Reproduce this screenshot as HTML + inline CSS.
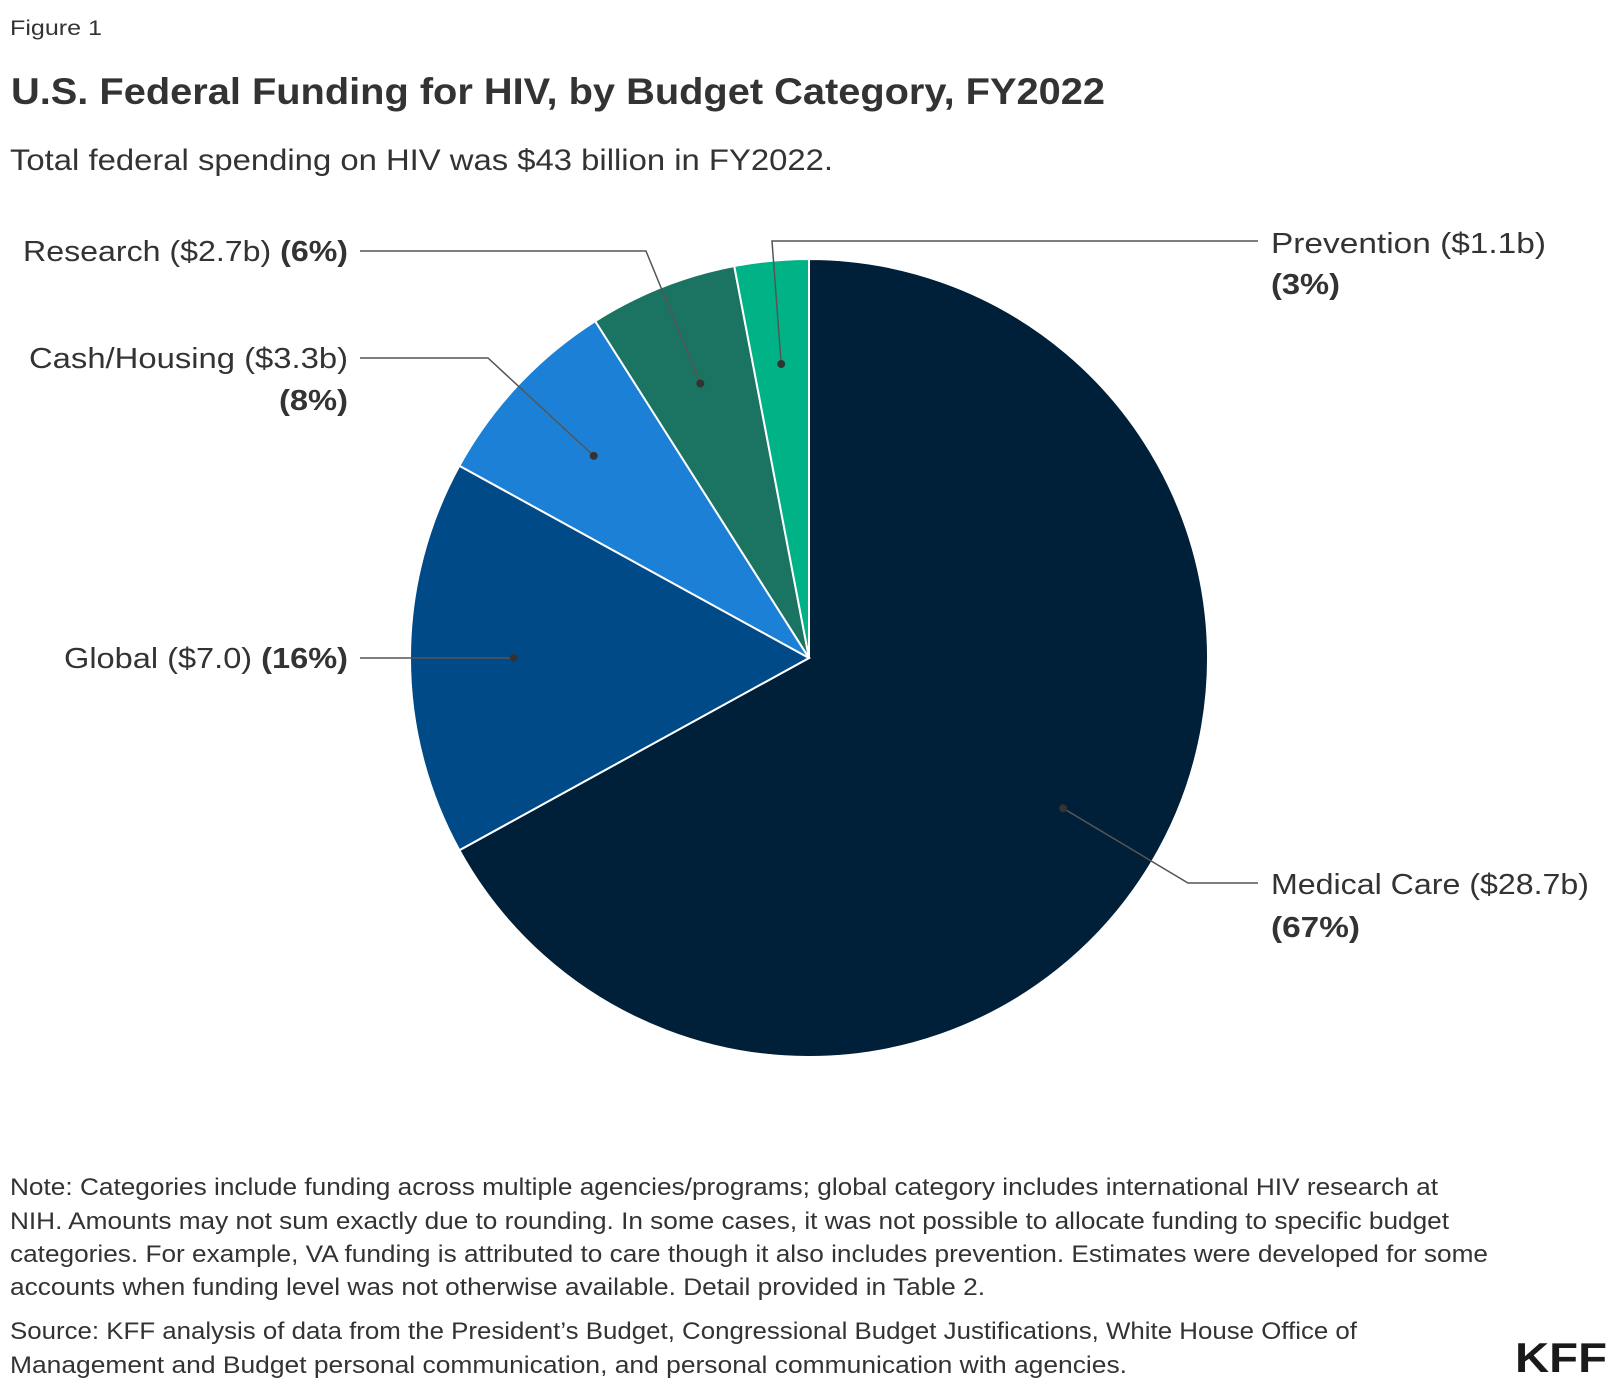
<!DOCTYPE html>
<html><head><meta charset="utf-8"><style>
html,body{margin:0;padding:0;background:#fff;}
svg{display:block;font-family:"Liberation Sans",sans-serif;}
</style></head><body>
<svg id="chart" width="1620" height="1392" viewBox="0 0 1620 1392">
<text x="10" y="35" font-size="21" fill="#333" textLength="92" lengthAdjust="spacingAndGlyphs">Figure 1</text>
<text x="11" y="104" font-size="37" font-weight="bold" fill="#333" textLength="1094" lengthAdjust="spacingAndGlyphs">U.S. Federal Funding for HIV, by Budget Category, FY2022</text>
<text x="10" y="170" font-size="30" fill="#333" textLength="823" lengthAdjust="spacingAndGlyphs">Total federal spending on HIV was $43 billion in FY2022.</text>
<g id="pie"></g>
<g id="labels"></g>
<g font-size="24" fill="#333">
<text x="10" y="1195" textLength="1428" lengthAdjust="spacingAndGlyphs">Note: Categories include funding across multiple agencies/programs; global category includes international HIV research at</text>
<text x="10" y="1229" textLength="1439" lengthAdjust="spacingAndGlyphs">NIH. Amounts may not sum exactly due to rounding. In some cases, it was not possible to allocate funding to specific budget</text>
<text x="10" y="1262" textLength="1478" lengthAdjust="spacingAndGlyphs">categories. For example, VA funding is attributed to care though it also includes prevention. Estimates were developed for some</text>
<text x="10" y="1295" textLength="975" lengthAdjust="spacingAndGlyphs">accounts when funding level was not otherwise available. Detail provided in Table 2.</text>
</g>
<g font-size="24" fill="#333">
<text x="10" y="1339" textLength="1347" lengthAdjust="spacingAndGlyphs">Source: KFF analysis of data from the President’s Budget, Congressional Budget Justifications, White House Office of</text>
<text x="10" y="1373" textLength="1117" lengthAdjust="spacingAndGlyphs">Management and Budget personal communication, and personal communication with agencies.</text>
</g>
<text x="1515" y="1372" font-size="42" font-weight="bold" fill="#1a1a1a" textLength="92" lengthAdjust="spacingAndGlyphs">KFF</text>
</svg>
<script>
const categories = ["Medical Care", "Global", "Cash/Housing", "Research", "Prevention"];
const shares = [67, 16, 8, 6, 3];
const amountLabels = ["($28.7b)", "($7.0)", "($3.3b)", "($2.7b)", "($1.1b)"];
const percentLabels = ["(67%)", "(16%)", "(8%)", "(6%)", "(3%)"];
const colors = ["#001f38", "#004a87", "#1c81d6", "#1b7462", "#00b386"];

const NS = "http://www.w3.org/2000/svg";
const cx = 809, cy = 658, R = 399;
const total = shares.reduce((a, b) => a + b, 0);
function angleOf(v) { return v / total * Math.PI * 2; }
function pt(a, r) { return [cx + r * Math.sin(a), cy - r * Math.cos(a)]; }

const pie = document.getElementById('pie');
const labels = document.getElementById('labels');
let start = 0;
const mids = [];
shares.forEach((v, i) => {
  const end = start + angleOf(v);
  const [x1, y1] = pt(start, R), [x2, y2] = pt(end, R);
  const large = end - start > Math.PI ? 1 : 0;
  const p = document.createElementNS(NS, 'path');
  p.setAttribute('d', `M${cx},${cy} L${x1},${y1} A${R},${R} 0 ${large} 1 ${x2},${y2} Z`);
  p.setAttribute('fill', colors[i]);
  p.setAttribute('stroke', '#fff');
  p.setAttribute('stroke-width', '2');
  
  
  pie.appendChild(p);
  mids.push((start + end) / 2);
  start = end;
});

const layout = [
  { side: 'r', tx: 1271, y: [884, 927], w: [318, 89], elbowX: 1188, lineY: 883, lineEnd: 1258 },
  { side: 'l', tx: 348, y: [658], w: [284], elbowX: null, lineY: 658, lineEnd: 360 },
  { side: 'l', tx: 348, y: [358, 400], w: [319, 69], elbowX: 488, lineY: 358, lineEnd: 360 },
  { side: 'l', tx: 348, y: [251], w: [325], elbowX: 646, lineY: 251, lineEnd: 360 },
  { side: 'r', tx: 1271, y: [243, 284], w: [275, 69], elbowX: 772, lineY: 241, lineEnd: 1258 }
];

categories.forEach((c, i) => {
  const L = layout[i];
  const [dx, dy] = pt(mids[i], R * 0.74);
  const line = document.createElementNS(NS, 'polyline');
  const pts = L.elbowX === null
    ? `${L.lineEnd},${L.lineY} ${dx},${L.lineY}`
    : `${L.lineEnd},${L.lineY} ${L.elbowX},${L.lineY} ${dx},${dy}`;
  line.setAttribute('points', pts);
  line.setAttribute('fill', 'none');
  line.setAttribute('stroke', '#555');
  line.setAttribute('stroke-width', '1.5');
  
  
  labels.appendChild(line);
  const dot = document.createElementNS(NS, 'circle');
  dot.setAttribute('cx', dx); dot.setAttribute('cy', L.elbowX === null ? L.lineY : dy); dot.setAttribute('r', '4');
  dot.setAttribute('fill', '#333');
  
  
  labels.appendChild(dot);

  const anchor = L.side === 'l' ? 'end' : 'start';
  const mk = (y, w) => {
    const t = document.createElementNS(NS, 'text');
    t.setAttribute('x', L.tx); t.setAttribute('y', y + 10);
    t.setAttribute('font-size', '29'); t.setAttribute('fill', '#333');
    t.setAttribute('text-anchor', anchor);
    t.setAttribute('textLength', w);
    t.setAttribute('lengthAdjust', 'spacingAndGlyphs');
    
    
    labels.appendChild(t);
    return t;
  };
  const addSpan = (t, s, bold) => {
    const sp = document.createElementNS(NS, 'tspan');
    if (bold) sp.setAttribute('font-weight', 'bold');
    sp.textContent = s; t.appendChild(sp);
  };
  if (L.y.length === 1) {
    const t = mk(L.y[0], L.w[0]);
    addSpan(t, c + ' ' + amountLabels[i] + ' ', false);
    addSpan(t, percentLabels[i], true);
  } else {
    const t1 = mk(L.y[0], L.w[0]);
    addSpan(t1, c + ' ' + amountLabels[i], false);
    const t2 = mk(L.y[1], L.w[1]);
    addSpan(t2, percentLabels[i], true);
  }
});
</script>
</body></html>
